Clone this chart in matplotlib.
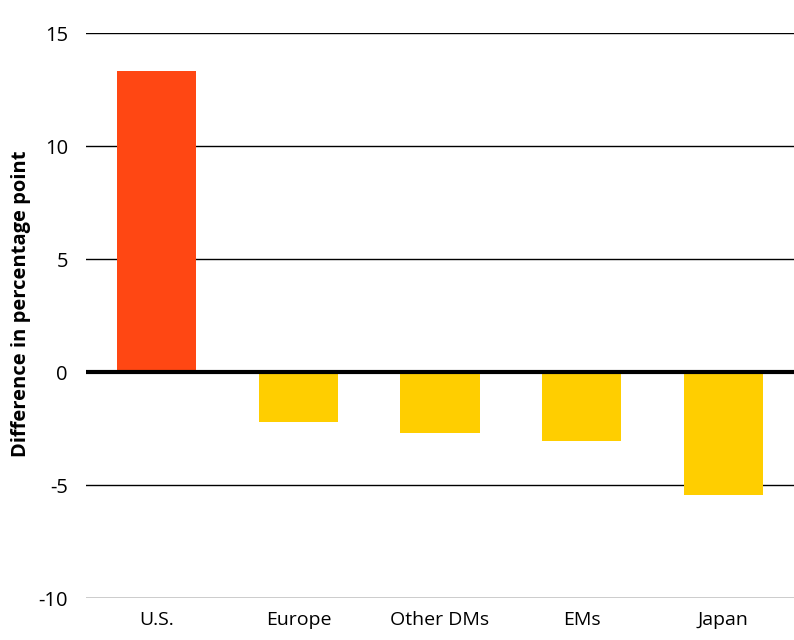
import matplotlib
matplotlib.use('Agg')
import matplotlib.pyplot as plt

plt.rcParams['font.family'] = ['Open Sans', 'DejaVu Sans']

categories = ['U.S.', 'Europe', 'Other DMs', 'EMs', 'Japan']
values = [13.3, -2.2, -2.7, -3.05, -5.45]
bar_colors = ['#FF4713', '#FFCE00', '#FFCE00', '#FFCE00', '#FFCE00']
yticks = [-10, -5, 0, 5, 10, 15]

fig = plt.figure(figsize=(7.94, 6.4), dpi=100)
ax = fig.add_axes([0.1083, 0.0656, 0.8917, 0.8828])

x = range(len(categories))
ax.bar(x, values, width=0.56, color=bar_colors, zorder=2)

ax.set_ylim(-10, 15)
ax.set_xlim(-0.5, 4.5)
ax.set_yticks(yticks)
ax.set_yticklabels([str(t) for t in yticks], fontsize=14.5)
ax.set_xticks(list(x))
ax.set_xticklabels(categories, fontsize=14)

for t in yticks:
    if t != 0:
        ax.axhline(t, color='black', lw=1, zorder=1)
ax.axhline(0, color='black', lw=3, zorder=3)

for s in ax.spines.values():
    s.set_visible(False)
ax.tick_params(axis='both', length=0)
ax.tick_params(axis='y', pad=13)
ax.tick_params(axis='x', pad=9)

ax.set_ylabel('Difference in percentage point', fontsize=14.5, fontweight='bold')
ax.yaxis.set_label_coords(-0.078, 0.52)

fig.savefig('out.png', dpi=100)
